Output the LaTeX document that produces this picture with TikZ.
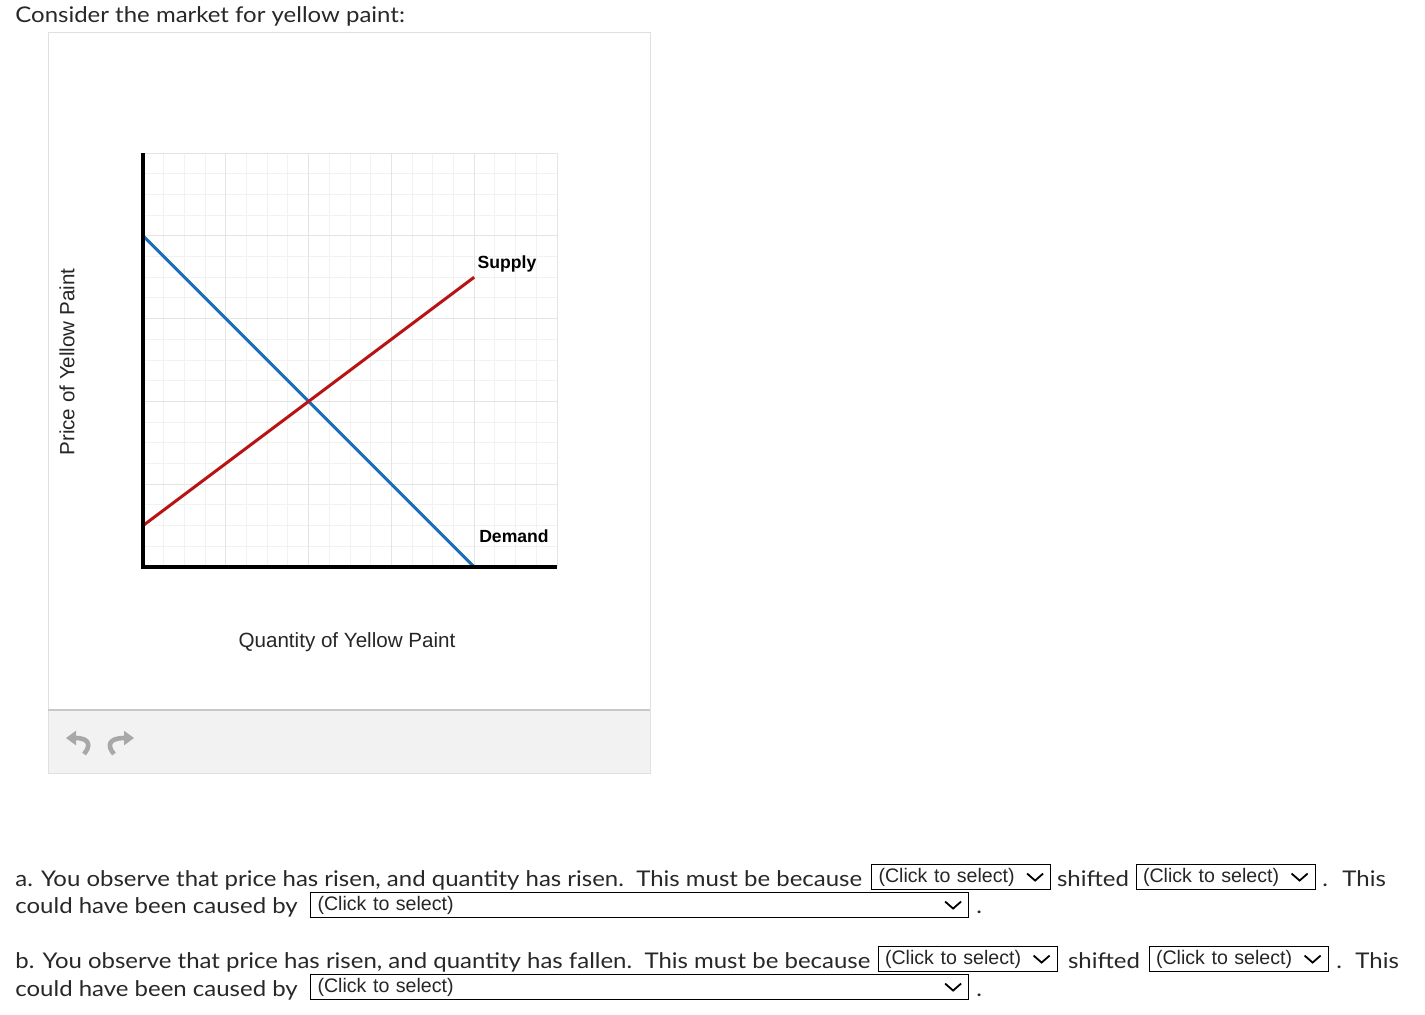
\documentclass[tikz,border=0pt]{standalone}
\usepackage{fontspec}
\setmainfont{Liberation Sans}
\newfontfamily\promptfont[FakeStretch=1.11]{Lato}
\usetikzlibrary{arrows.meta,positioning}

\definecolor{demandblue}{RGB}{24,108,184}
\definecolor{supplyred}{RGB}{184,18,18}
\definecolor{gridminor}{RGB}{242,242,242}
\definecolor{gridmajor}{RGB}{228,228,228}
\definecolor{panelgray}{RGB}{224,224,224}
\definecolor{barfill}{RGB}{242,242,242}
\definecolor{bartop}{RGB}{200,200,200}
\definecolor{iconfill}{RGB}{168,168,168}
\definecolor{prompttext}{RGB}{40,40,40}

\tikzset{
  prompt/.style={font=\promptfont\fontsize{10.8}{12}\selectfont, text=prompttext, inner sep=0pt, anchor=base west},
  axislabel/.style={font=\fontsize{10.3}{12}\selectfont, text=black!85, inner sep=0pt},
  curvelabel/.style={font=\bfseries\fontsize{8.8}{10}\selectfont, inner sep=0pt, anchor=base},
  selbox/.style={draw, line width=0.55pt, inner xsep=3.5pt, inner ysep=0pt, minimum height=12.5pt,
    anchor=north west, align=left, font=\fontsize{9.8}{11}\selectfont, text=black!85},
  chevline/.style={line width=0.9pt},
  curve/.style={line width=1.5pt},
  axis/.style={line width=1.7pt},
  icon/.style={line width=2.3pt, iconfill, -{Triangle[length=5pt,width=7pt]}}
}
\newcommand\chevron[1]{\draw[chevline] ([xshift=-12pt,yshift=1.75pt]#1.east) -- ++(4pt,-3.5pt) -- ++(4pt,3.5pt);}

\begin{document}
\begin{tikzpicture}[x=0.5pt,y=-0.5pt]
 %page
  \fill[white] (0,0) rectangle (1425,1014);
  \useasboundingbox (0,0) rectangle (1425,1014);
  \node[prompt] (title) at (15,22) {Consider the market for yellow paint:};
 %graph panel
  \draw[panelgray, line width=0.5pt] (48,32) rectangle (650,773);
  \fill[barfill] (48.5,710) rectangle (649.5,772.5);
  \draw[bartop, line width=1pt] (48,710) -- (650,710);
  %undo / redo
    \draw[icon] (84,754) .. controls (91,746) and (90,738) .. (66,738);
    \draw[icon] (114,754) .. controls (107,746) and (108,738) .. (134,738);
 %the market diagram
  \begin{scope}[shift={(143,567)}, x=10.35pt, y=10.35pt]
    %grid
      \foreach \k in {0,...,20}
        \draw[gridminor, line width=0.5pt] (\k,0) -- (\k,20) (0,\k) -- (20,\k);
      \foreach \k in {4,8,...,20}
        \draw[gridmajor, line width=0.5pt] (\k,0) -- (\k,20) (0,\k) -- (20,\k);
    %curves
      \coordinate (d0) at (0,16); \coordinate (d1) at (16,0);
      \coordinate (s0) at (0,2);  \coordinate (s1) at (16,14);
      \draw[curve, demandblue] (d0) -- (d1);
      \draw[curve, supplyred] (s0) -- (s1);
    %axes
      \coordinate (top) at (0,20); \coordinate (o) at (0,0); \coordinate (right) at (20,0);
      \draw[axis] (top) -- (o) -- (right);
  \end{scope}
  \node[curvelabel] (supply) at (507,268) {Supply};
  \node[curvelabel] (demand) at (514,542) {Demand};
  \node[axislabel, rotate=90] (ylab) at (67,362) {Price of Yellow Paint};
  \node[axislabel] (xlab) at (347,642) {Quantity of Yellow Paint};
 %question a
  \node[prompt] (qa) at (15,886) {a. You observe that price has risen, and quantity has risen.\ \ This must be because};
  \node[selbox, text width=82.5pt] (sa1) at (871,864) {(Click to select)}; \chevron{sa1}
  \node[prompt, anchor=base] (sha) at (1093,886) {shifted};
  \node[selbox, text width=82.5pt] (sa2) at (1135.5,864) {(Click to select)}; \chevron{sa2}
  \node[prompt] (pa1) at (1322,886) {.};
  \node[prompt] (tha) at (1342,886) {This};
  \node[prompt] (ca) at (15,913) {could have been caused by};
  \node[selbox, text width=322pt] (sa3) at (310,892) {(Click to select)}; \chevron{sa3}
  \node[prompt] (pa2) at (976,913) {.};
 %question b
  \node[prompt] (qb) at (15,968) {b. You observe that price has risen, and quantity has fallen.\ \ This must be because};
  \node[selbox, text width=82.5pt] (sb1) at (877.5,946) {(Click to select)}; \chevron{sb1}
  \node[prompt, anchor=base] (shb) at (1104,968) {shifted};
  \node[selbox, text width=82.5pt] (sb2) at (1148.5,946) {(Click to select)}; \chevron{sb2}
  \node[prompt] (pb1) at (1336,968) {.};
  \node[prompt] (thb) at (1355,968) {This};
  \node[prompt] (cb) at (15,996) {could have been caused by};
  \node[selbox, text width=322pt] (sb3) at (310,974) {(Click to select)}; \chevron{sb3}
  \node[prompt] (pb2) at (976,996) {.};
\end{tikzpicture}
\end{document}
